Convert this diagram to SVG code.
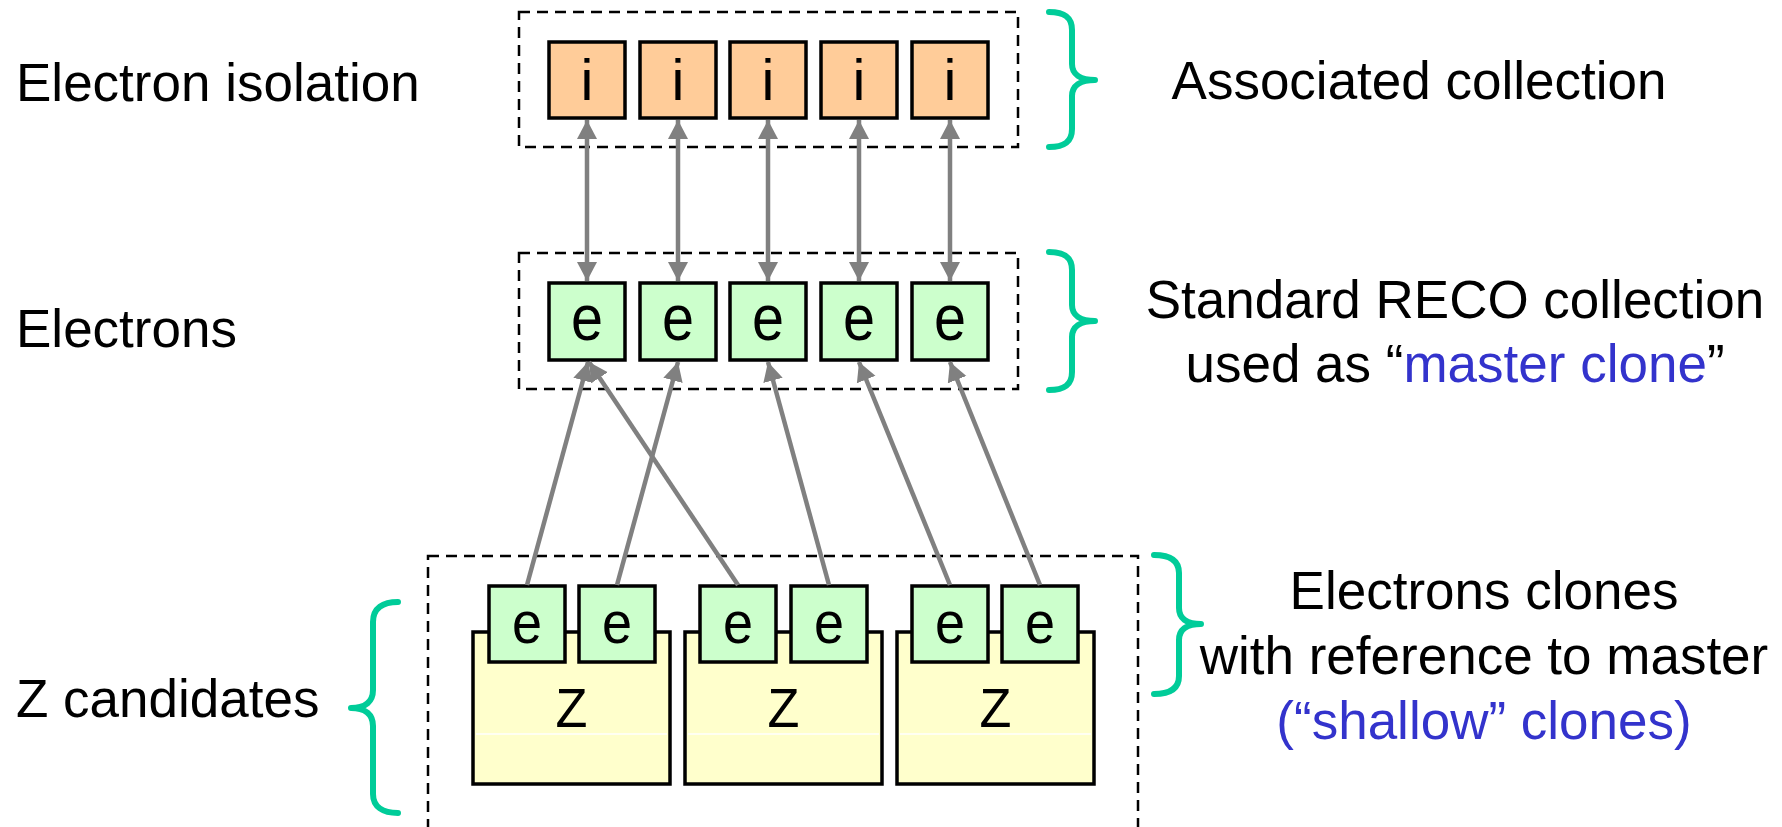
<svg xmlns="http://www.w3.org/2000/svg" width="1782" height="827" viewBox="0 0 1782 827">
<style>
  .lbl { font-family: "Liberation Sans", Arial, sans-serif; font-size: 53px; fill: #000; }
  .blue { fill: #3333cc; }
  .dash { fill: none; stroke: #000; stroke-width: 2.5; stroke-dasharray: 11 7; }
  .box { stroke: #000; stroke-width: 3.5; }
  .iso { fill: #ffcc99; }
  .ele { fill: #ccffcc; }
  .zb { fill: #ffffcc; }
  .gl { font-family: "Liberation Sans", Arial, sans-serif; fill: #000; text-anchor: middle; }
  .brace { fill: none; stroke: #00cc99; stroke-width: 6; stroke-linecap: round; stroke-linejoin: round; }
  .conn { fill: none; stroke: #808080; stroke-width: 4.5; }
</style>
<defs>
  <marker id="ah" markerUnits="userSpaceOnUse" markerWidth="20" markerHeight="22" refX="19" refY="11" orient="auto-start-reverse" viewBox="0 0 20 22">
    <path d="M0,1 L19,11 L0,21 Z" fill="#808080"/>
  </marker>
</defs>
<rect width="1782" height="827" fill="#fff"/>

<!-- Labels -->
<g id="labels">
  <text class="lbl" x="16" y="101">Electron isolation</text>
  <text class="lbl" x="16" y="347">Electrons</text>
  <text class="lbl" x="16" y="717">Z candidates</text>
  <text class="lbl" x="1419" y="99" text-anchor="middle">Associated collection</text>
  <text class="lbl" x="1455" y="318" text-anchor="middle">Standard RECO collection</text>
  <text class="lbl" x="1455" y="382" text-anchor="middle">used as “<tspan class="blue">master clone</tspan>”</text>
  <text class="lbl" x="1484" y="609" text-anchor="middle">Electrons clones</text>
  <text class="lbl" x="1484" y="674" text-anchor="middle">with reference to master</text>
  <text class="lbl blue" x="1484" y="739" text-anchor="middle">(“shallow” clones)</text>
</g>

<!-- Group frames -->
<g id="frame-isolation"><rect class="dash" x="519" y="12" width="499" height="135"/></g>
<g id="frame-electrons"><rect class="dash" x="519" y="253" width="499" height="136"/></g>
<g id="frame-z"><rect class="dash" x="428" y="556" width="710" height="300"/></g>

<!-- Braces -->
<g id="braces">
  <path class="brace" d="M1049,12 C1064,12 1072,17 1072,30 L1072,64 C1072,74 1080,80 1095,80 C1080,80 1072,86 1072,96 L1072,129 C1072,142 1064,147 1049,147"/>
  <path class="brace" d="M1049,252 C1064,252 1072,257 1072,270 L1072,305 C1072,315 1080,321 1095,321 C1080,321 1072,327 1072,337 L1072,372 C1072,385 1064,390 1049,390"/>
  <path class="brace" d="M1154,555 C1169,555 1179,560 1179,573 L1179,608 C1179,618 1186,624 1201,624 C1186,624 1179,630 1179,640 L1179,676 C1179,689 1169,694 1154,694"/>
  <path class="brace" d="M398,602 C383,602 373,608 373,622 L373,690 C373,701 366,708 351,708 C366,708 373,715 373,726 L373,794 C373,807 383,813 398,813"/>
</g>

<!-- Isolation nodes -->
<g id="iso1"><rect class="box iso" x="549" y="42" width="76" height="76"/><text class="gl" x="587" y="100" font-size="58">i</text></g>
<g id="iso2"><rect class="box iso" x="640" y="42" width="76" height="76"/><text class="gl" x="678" y="100" font-size="58">i</text></g>
<g id="iso3"><rect class="box iso" x="730" y="42" width="76" height="76"/><text class="gl" x="768" y="100" font-size="58">i</text></g>
<g id="iso4"><rect class="box iso" x="821" y="42" width="76" height="76"/><text class="gl" x="859" y="100" font-size="58">i</text></g>
<g id="iso5"><rect class="box iso" x="912" y="42" width="76" height="76"/><text class="gl" x="950" y="100" font-size="58">i</text></g>

<!-- Master electrons -->
<g id="ele1"><rect class="box ele" x="549" y="283" width="76" height="77"/><text class="gl" font-size="64" transform="translate(587,340) scale(0.9,1)">e</text></g>
<g id="ele2"><rect class="box ele" x="640" y="283" width="76" height="77"/><text class="gl" font-size="64" transform="translate(678,340) scale(0.9,1)">e</text></g>
<g id="ele3"><rect class="box ele" x="730" y="283" width="76" height="77"/><text class="gl" font-size="64" transform="translate(768,340) scale(0.9,1)">e</text></g>
<g id="ele4"><rect class="box ele" x="821" y="283" width="76" height="77"/><text class="gl" font-size="64" transform="translate(859,340) scale(0.9,1)">e</text></g>
<g id="ele5"><rect class="box ele" x="912" y="283" width="76" height="77"/><text class="gl" font-size="64" transform="translate(950,340) scale(0.9,1)">e</text></g>

<!-- Z candidates -->
<g id="z1">
  <rect class="box zb" x="473" y="632" width="197" height="152"/>
  <line x1="476" y1="734" x2="667" y2="734" stroke="#fff" stroke-width="1.5"/>
  <text class="gl" font-size="55" transform="translate(571.5,727) scale(0.95,1)">Z</text>
  <rect class="box ele" x="489" y="586" width="76" height="76"/><text class="gl" font-size="60" transform="translate(527,643) scale(0.9,1)">e</text>
  <rect class="box ele" x="579" y="586" width="76" height="76"/><text class="gl" font-size="60" transform="translate(617,643) scale(0.9,1)">e</text>
</g>
<g id="z2">
  <rect class="box zb" x="685" y="632" width="197" height="152"/>
  <line x1="688" y1="734" x2="879" y2="734" stroke="#fff" stroke-width="1.5"/>
  <text class="gl" font-size="55" transform="translate(783.5,727) scale(0.95,1)">Z</text>
  <rect class="box ele" x="700" y="586" width="76" height="76"/><text class="gl" font-size="60" transform="translate(738,643) scale(0.9,1)">e</text>
  <rect class="box ele" x="791" y="586" width="76" height="76"/><text class="gl" font-size="60" transform="translate(829,643) scale(0.9,1)">e</text>
</g>
<g id="z3">
  <rect class="box zb" x="897" y="632" width="197" height="152"/>
  <line x1="900" y1="734" x2="1091" y2="734" stroke="#fff" stroke-width="1.5"/>
  <text class="gl" font-size="55" transform="translate(995.5,727) scale(0.95,1)">Z</text>
  <rect class="box ele" x="912" y="586" width="76" height="76"/><text class="gl" font-size="60" transform="translate(950,643) scale(0.9,1)">e</text>
  <rect class="box ele" x="1002" y="586" width="76" height="76"/><text class="gl" font-size="60" transform="translate(1040,643) scale(0.9,1)">e</text>
</g>

<!-- Connectors -->
<g id="connectors">
  <line class="conn" x1="587" y1="120" x2="587" y2="281" marker-start="url(#ah)" marker-end="url(#ah)"/>
  <line class="conn" x1="678" y1="120" x2="678" y2="281" marker-start="url(#ah)" marker-end="url(#ah)"/>
  <line class="conn" x1="768" y1="120" x2="768" y2="281" marker-start="url(#ah)" marker-end="url(#ah)"/>
  <line class="conn" x1="859" y1="120" x2="859" y2="281" marker-start="url(#ah)" marker-end="url(#ah)"/>
  <line class="conn" x1="950" y1="120" x2="950" y2="281" marker-start="url(#ah)" marker-end="url(#ah)"/>
  <line class="conn" x1="527" y1="585" x2="588" y2="362" marker-end="url(#ah)"/>
  <line class="conn" x1="617" y1="585" x2="678" y2="362" marker-end="url(#ah)"/>
  <line class="conn" x1="738" y1="585" x2="589" y2="362" marker-end="url(#ah)"/>
  <line class="conn" x1="829" y1="585" x2="768" y2="362" marker-end="url(#ah)"/>
  <line class="conn" x1="950" y1="585" x2="859" y2="362" marker-end="url(#ah)"/>
  <line class="conn" x1="1040" y1="585" x2="950" y2="362" marker-end="url(#ah)"/>
</g>
</svg>
